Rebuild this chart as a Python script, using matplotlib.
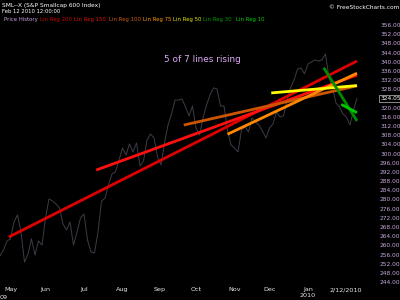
import numpy as np
import pandas as pd
import matplotlib
matplotlib.use("Agg")
import matplotlib.pyplot as plt

# NYSE holidays inside the window
HOLIDAYS = ["2009-05-25", "2009-07-03", "2009-09-07", "2009-11-26",
            "2009-12-25", "2010-01-01", "2010-01-18"]

# closes, every 2nd session, 2009-04-23 .. 2010-02-12
price = [255.4, 258.0, 261.9, 262.8, 270.2, 273.2, 265.8, 252.7, 256.2, 262.8,
         255.8, 261.9, 260.1, 271.9, 280.2, 279.3, 278.0, 276.3, 269.3, 266.7,
         270.2, 260.1, 265.8, 271.9, 273.7, 262.3, 257.1, 256.7, 265.8, 279.3,
         280.6, 286.3, 291.1, 292.0, 297.2, 302.4, 299.4, 304.2, 300.7, 304.6,
         294.6, 296.7, 305.9, 308.5, 306.8, 298.5, 295.0, 304.6, 312.4, 317.2,
         323.3, 323.3, 323.8, 320.3, 316.4, 320.7, 311.1, 308.1, 315.5, 321.1,
         325.5, 328.6, 328.1, 320.7, 320.7, 310.3, 303.7, 302.4, 300.7, 310.3,
         311.6, 309.4, 315.5, 313.7, 312.4, 309.8, 306.8, 311.1, 312.9, 318.1,
         315.9, 316.4, 322.9, 328.6, 332.0, 336.8, 337.3, 334.7, 339.0, 339.9,
         340.8, 340.3, 340.8, 343.4, 332.9, 328.6, 322.0, 320.3, 317.2, 315.9,
         312.4, 319.0, 324.05]

legend_names = ["Lin Reg 200", "Lin Reg 150", "Lin Reg 100", "Lin Reg 75",
                "Lin Reg 50", "Lin Reg 30", "Lin Reg 10"]
reg_len = [200, 150, 100, 75, 50, 20, 10]
reg_start = [263.6, 292.8, 312.4, 308.4, 326.4, 337.4, 321.4]
reg_end = [340.3, 334.2, 329.5, 335.0, 329.6, 314.2, 317.8]
reg_colors = ["#e00000", "#ff1010", "#cc5500", "#ff8800", "#ffff00", "#008c00", "#00c800"]
legend_colors = ["#cc0000", "#e01010", "#d05a10", "#ff9900", "#e8e800", "#00a000", "#00d000"]

month_labels = ["May", "Jun", "Jul", "Aug", "Sep", "Oct", "Nov", "Dec", "Jan\n2010"]
y_ticks = [v for v in range(244, 357, 4) if v != 324]

cbd = pd.offsets.CustomBusinessDay(holidays=HOLIDAYS)
days = pd.date_range("2009-04-23", "2010-02-12", freq=cbd)
pos = np.arange(len(days))
last = pos[-1]
xs = pos[::-1][::2][:len(price)][::-1]

fig = plt.figure(figsize=(4, 3), dpi=100, facecolor="black")
ax = fig.add_axes([0, 16 / 300, 362 / 400, 284 / 300], facecolor="black")

ax.plot(xs, price, color="#413a47", lw=0.7, zorder=1)
for n, y0, y1, c in zip(reg_len, reg_start, reg_end, reg_colors):
    ax.plot([last - n + 1, last], [y0, y1], color=c, lw=2.0,
            solid_capstyle="butt", zorder=2)

ax.set_xlim(0, 362 / 1.75)
ax.set_ylim(243.15, 366.89)
for s in ax.spines.values():
    s.set_visible(False)

mon = days.month
firsts = [i for i in range(1, len(days)) if mon[i] != mon[i - 1]][:len(month_labels)]
ax.set_xticks(firsts)
ax.set_xticklabels(month_labels, fontsize=4.6, color="#e8e8e8", linespacing=1.1)
ax.tick_params(axis="x", length=0, pad=2.5)
ax.yaxis.tick_right()
ax.set_yticks(y_ticks)
ax.set_yticklabels([f"{v:.2f}" for v in y_ticks], fontsize=4.2, color="#c8a8dc")
ax.tick_params(axis="y", length=0, pad=13)

ax.text(1.0, -0.012, "2/12/2010", transform=ax.transAxes, ha="right", va="top",
        fontsize=4.6, color="#e8e8e8")
fig.text(0.0, 2.5 / 300, "09", ha="left", va="center", fontsize=4.6, color="#e8e8e8")

# current price box, in line with the price labels
ax.annotate(f"{price[-1]:.2f}", xy=(1.0, price[-1]), xycoords=ax.get_yaxis_transform(),
            xytext=(13, 0), textcoords="offset points", ha="left", va="center",
            fontsize=4.2, color="white",
            bbox=dict(boxstyle="square,pad=0.15", fc="black", ec="#a0a0a0", lw=0.6))

# header texts
fig.text(2 / 400, 1 - 5 / 300, "SML--X (S&P Smallcap 600 Index)", fontsize=4.2,
         color="white", va="center")
fig.text(2 / 400, 1 - 11.5 / 300, "Feb 12 2010 12:00:00", fontsize=3.8,
         color="white", va="center")
fig.text(1 - 1 / 400, 1 - 7.5 / 300, "© FreeStockCharts.com", fontsize=4.2,
         color="white", va="center", ha="right")

leg_x = [4, 40, 74, 109, 143, 173, 203, 236]
fig.text(leg_x[0] / 400, 1 - 20 / 300, "Price History", fontsize=3.9,
         color="#c8a0e0", va="center")
for x, name, c in zip(leg_x[1:], legend_names, legend_colors):
    fig.text(x / 400, 1 - 20 / 300, name, fontsize=3.9, color=c, va="center")

fig.text(164 / 400, 1 - 59 / 300, "5 of 7 lines rising", fontsize=6.4,
         color="#dca8f4", ha="left", va="center")

fig.savefig("out.png", dpi=100, facecolor="black")
